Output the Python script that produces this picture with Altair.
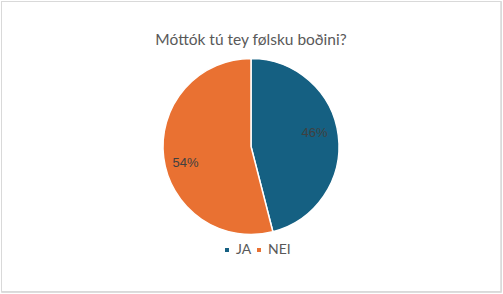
import altair as alt
import pandas as pd

categories = ["JA", "NEI"]
values = [46, 54]
labels = ["46%", "54%"]
colors = ["#156082", "#E97132"]

df = pd.DataFrame({"cat": categories, "val": values, "lab": labels, "ord": [0, 1]})

pie = alt.Chart(df).mark_arc(outerRadius=88, stroke="white", strokeWidth=1.5).encode(
    theta=alt.Theta("val:Q", stack=True),
    order=alt.Order("ord:Q"),
    color=alt.Color(
        "cat:N",
        scale=alt.Scale(domain=categories, range=colors),
        legend=alt.Legend(
            title=None,
            orient="none",
            legendX=219,
            legendY=242,
            direction="horizontal",
            symbolType="square",
            symbolSize=30,
            labelFontSize=14,
            labelColor="#595959",
            labelFont="Lato",
            labelOffset=2,
            columnPadding=0,
        ),
    ),
)

lab_base = alt.Chart(df).transform_window(
    cum="sum(val)", sort=[alt.SortField("ord")]
).transform_calculate(mid="datum.cum - datum.val / 2").encode(
    theta=alt.Theta("mid:Q", stack=None),
    text="lab:N",
)

t1 = lab_base.mark_text(radius=52, dx=12, dy=-7, fontSize=13, color="#404040", font="Liberation Sans").transform_filter(
    alt.datum.cat == "JA"
)
t2 = lab_base.mark_text(radius=70, dx=4, dy=8, fontSize=13, color="#404040", font="Liberation Sans").transform_filter(
    alt.datum.cat == "NEI"
)

frame = alt.Chart(df).mark_rect(fill=None, stroke="#d9d9d9", strokeWidth=1).encode(
    x=alt.value(0.5), x2=alt.value(500), y=alt.value(0.5), y2=alt.value(290.5)
)

chart = alt.layer(frame, pie, t1, t2).properties(
    width=500,
    height=291,
    padding={"left": 1, "top": 1, "right": 2, "bottom": 2},
    autosize=alt.AutoSizeParams(type="none"),
    title=alt.TitleParams(
        "Móttók tú tey følsku boðini?",
        fontSize=15.5,
        font="Lato",
        fontWeight="normal",
        color="#595959",
        anchor="middle",
        offset=-47,
    ),
).configure_view(stroke=None).configure(background="white")

chart.save("out.html", embed_options={"renderer": "svg", "actions": False})
